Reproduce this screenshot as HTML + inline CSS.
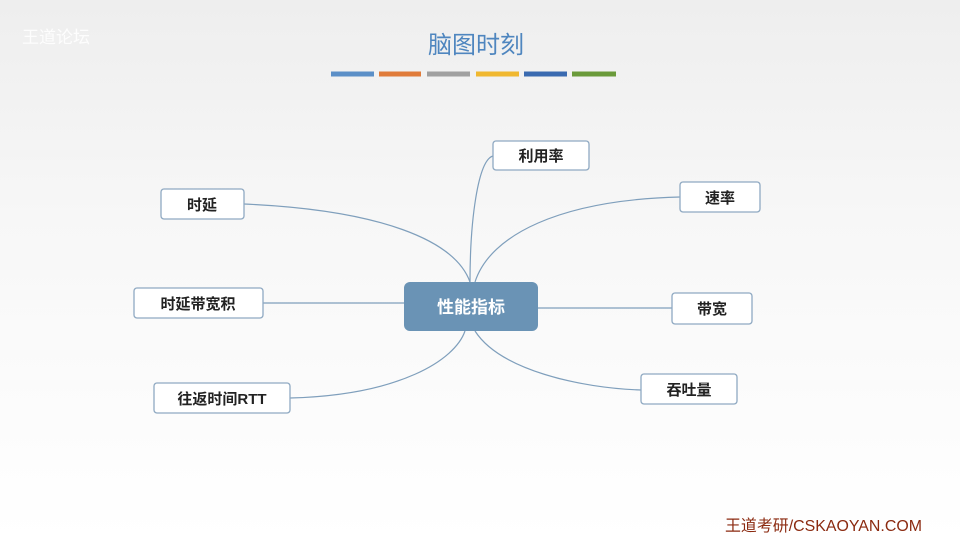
<!DOCTYPE html>
<html><head><meta charset="utf-8"><style>
html,body{margin:0;padding:0;width:960px;height:540px;overflow:hidden}
body{background:linear-gradient(#eeeeee 0%,#f7f7f7 40%,#ffffff 100%);font-family:"Liberation Sans","Noto Sans CJK SC",sans-serif}
</style></head><body>
<svg width="960" height="540" viewBox="0 0 960 540" xmlns="http://www.w3.org/2000/svg" style="position:absolute;left:0;top:0">
<text x="22" y="43" font-size="17" fill="#ffffff" font-family="Liberation Sans, Noto Sans CJK SC, sans-serif" opacity="0.9">王道论坛</text>
<text x="476" y="53" text-anchor="middle" font-size="24" fill="#4f86bf" font-family="Liberation Sans, Noto Sans CJK SC, sans-serif">脑图时刻</text>
<g stroke-width="5">
<line x1="331" y1="74" x2="374" y2="74" stroke="#5b8fc7"/>
<line x1="379" y1="74" x2="421" y2="74" stroke="#e07b3a"/>
<line x1="427" y1="74" x2="470" y2="74" stroke="#a0a0a0"/>
<line x1="476" y1="74" x2="519" y2="74" stroke="#f0b830"/>
<line x1="524" y1="74" x2="567" y2="74" stroke="#3a6ab0"/>
<line x1="572" y1="74" x2="616" y2="74" stroke="#6a9a3a"/>
</g>
<g fill="none" stroke="#7f9fbc" stroke-width="1.2">
<path d="M244 204 C380 210 455 240 470 282"/>
<path d="M493 156 C478 160 470 220 470 282"/>
<path d="M680 197 C560 200 490 235 475 282"/>
<path d="M263 303 L404 303"/>
<path d="M538 308 L672 308"/>
<path d="M475 331 C500 370 580 388 641 390"/>
<path d="M290 398 C400 395 455 360 465 331"/>
</g>
<rect x="404" y="282" width="134" height="49" rx="6" fill="#6a93b5"/>
<text x="471" y="313" text-anchor="middle" font-size="17" fill="#ffffff" font-weight="bold">性能指标</text>
<g fill="#ffffff" stroke="#8fa9c2" stroke-width="1.3">
<rect x="493" y="141" width="96" height="29" rx="3"/>
<rect x="680" y="182" width="80" height="30" rx="3"/>
<rect x="161" y="189" width="83" height="30" rx="3"/>
<rect x="134" y="288" width="129" height="30" rx="3"/>
<rect x="672" y="293" width="80" height="31" rx="3"/>
<rect x="641" y="374" width="96" height="30" rx="3"/>
<rect x="154" y="383" width="136" height="30" rx="3"/>
</g>
<g font-size="15" fill="#222" text-anchor="middle" font-weight="bold">
<text x="541" y="161">利用率</text>
<text x="720" y="203">速率</text>
<text x="202" y="210">时延</text>
<text x="198" y="309">时延带宽积</text>
<text x="712" y="314">带宽</text>
<text x="689" y="395">吞吐量</text>
<text x="222" y="404">往返时间RTT</text>
</g>
<text x="922" y="531" text-anchor="end" font-size="16" fill="#8b2a10" textLength="197" lengthAdjust="spacingAndGlyphs">王道考研/CSKAOYAN.COM</text>
</svg>
</body></html>
